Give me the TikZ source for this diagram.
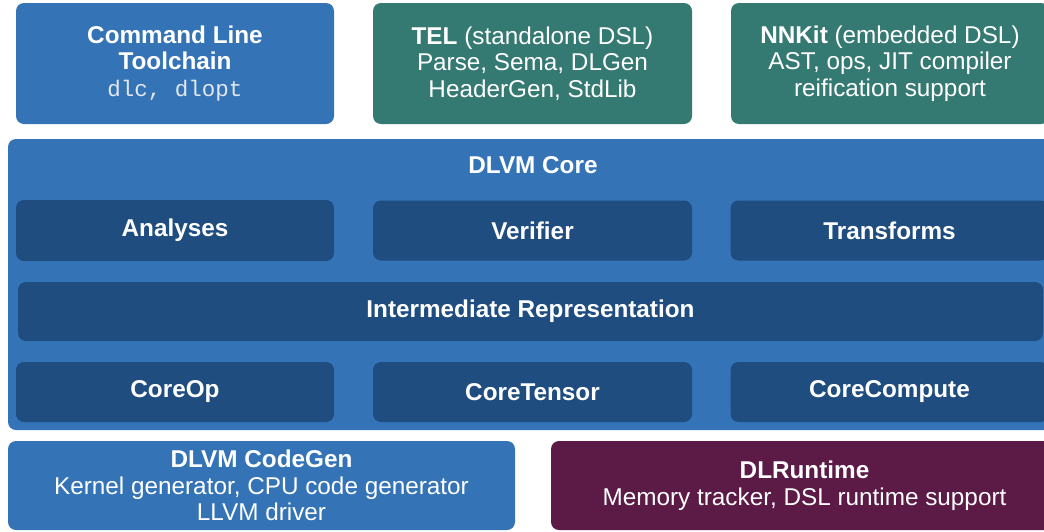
\documentclass[tikz,border=0pt]{standalone}
\usepackage{fontspec}
\setmainfont{Liberation Sans}
\setmonofont{Liberation Mono}
\definecolor{cblue}{HTML}{3474B6}
\definecolor{cdark}{HTML}{1F4D80}
\definecolor{cteal}{HTML}{357A72}
\definecolor{cmaroon}{HTML}{5C1A46}
\definecolor{cmono}{HTML}{E4E8EE}
\begin{document}
\begin{tikzpicture}[x=1pt,y=-1pt,
  box/.style={rounded corners=8pt, inner sep=0pt, text=white, align=center,
    font=\fontsize{24.3}{26.5}\selectfont},
  bluebox/.style={box, fill=cblue},
  darkbox/.style={box, fill=cdark, font=\fontsize{24.3}{26.5}\selectfont\bfseries},
  tealbox/.style={box, fill=cteal},
  maroonbox/.style={box, fill=cmaroon},
  lbl/.style={inner sep=0pt, text=white, font=\fontsize{24.3}{26.5}\selectfont\bfseries}
]
\useasboundingbox (0,0) rectangle (1044,531);
% top row
\node[bluebox, minimum width=318pt, minimum height=121pt] (cmd) at (175,63.5)
  {\textbf{Command Line}\\\textbf{Toolchain}\\{\fontsize{22.5}{26.5}\selectfont\ttfamily\color{cmono}dlc, dlopt}};
\node[tealbox, minimum width=319pt, minimum height=121pt] (tel) at (532.5,63.5)
  {\textbf{TEL} (standalone DSL)\\Parse, Sema, DLGen\\HeaderGen, StdLib};
\node[tealbox, minimum width=318pt, minimum height=121pt] (nnkit) at (890,63.5)
  {\textbf{NNKit} (embedded DSL)\\AST, ops, JIT compiler\\reification support};
% core
\node[bluebox, minimum width=1052pt, minimum height=291pt] (core) at (534,284.5) {};
\node[lbl] (corelbl) at (533,165) {DLVM Core};
\node[darkbox, minimum width=318pt, minimum height=61pt] (analyses) at (175,230.5) {Analyses};
\node[darkbox, minimum width=319pt, minimum height=60pt] (verifier) at (532.5,230.5) {Verifier};
\node[darkbox, minimum width=318pt, minimum height=60pt] (transforms) at (889.5,230.5) {Transforms};
\node[darkbox, minimum width=1025pt, minimum height=59pt] (ir) at (530.5,311.5) {Intermediate Representation};
\node[darkbox, minimum width=318pt, minimum height=60pt] (coreop) at (175,392) {CoreOp};
\node[darkbox, minimum width=319pt, minimum height=60pt] (coretensor) at (532.5,392) {CoreTensor};
\node[darkbox, minimum width=318pt, minimum height=60pt] (corecompute) at (889.5,392) {CoreCompute};
% bottom
\node[bluebox, minimum width=507pt, minimum height=89pt] (codegen) at (261.5,485.5)
  {\textbf{DLVM CodeGen}\\Kernel generator, CPU code generator\\LLVM driver};
\node[maroonbox, minimum width=507pt, minimum height=89pt] (runtime) at (804.5,485.5)
  {\textbf{DLRuntime}\\Memory tracker, DSL runtime support};
\end{tikzpicture}
\end{document}
